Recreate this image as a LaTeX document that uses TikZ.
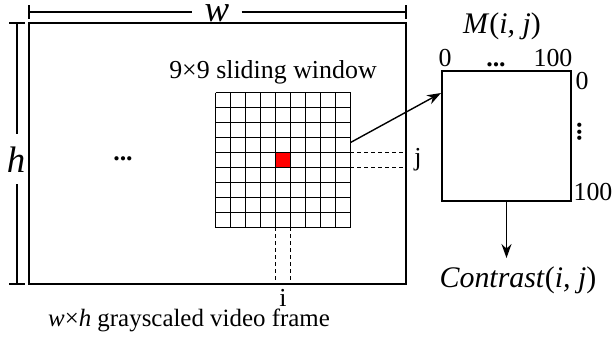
\documentclass[tikz,border=0pt]{standalone}
\usepackage{fontspec}
\setmainfont{Liberation Serif}
\usetikzlibrary{arrows.meta,positioning,calc}

\tikzset{
  lbl/.style={font=\fontsize{13}{15}\selectfont, inner sep=0pt, anchor=base},
  mlbl/.style={font=\fontsize{15}{17}\selectfont, inner sep=0pt, anchor=base},
  biglbl/.style={font=\fontsize{18.5}{21}\selectfont, inner xsep=6bp, inner ysep=0pt, anchor=base},
  dimline/.style={line width=0.7pt},
  framebox/.style={draw, line width=0.8pt},
  cell/.style={line width=0.55pt},
  guide/.style={dash pattern=on 2pt off 1.5pt, line width=0.6pt},
  conn/.style={line width=0.7pt, -{Stealth[length=7pt,width=5pt]}},
}

\begin{document}
\begin{tikzpicture}[x=0.5bp,y=-0.5bp]
  \useasboundingbox (0,0) rectangle (612,352);

  % video frame
  \draw[framebox] (29,23) rectangle (406,284);

  % width w
  \node[biglbl] (wlbl) at (217,21) {\textit{w}};
  \draw[dimline] (29,5) -- (29,19);
  \draw[dimline] (406,5) -- (406,19);
  \draw[dimline] (29,12) -- (wlbl.west |- 0,12);
  \draw[dimline] (wlbl.east |- 0,12) -- (406,12);

  % height h
  \node[biglbl, inner ysep=6bp] (hlbl) at (16,172) {\textit{h}};
  \draw[dimline] (9,23) -- (25,23);
  \draw[dimline] (9,284) -- (25,284);
  \draw[dimline] (17,23) -- (hlbl.north -| 17,0);
  \draw[dimline] (hlbl.south -| 17,0) -- (17,284);

  \node[lbl] (fdots) at (123,160) {\textbf{...}};

  % 9x9 sliding window
  \node[lbl] (wintitle) at (273,78) {9×9 sliding window};
  \fill[red] (275.5,152.5) rectangle ++(15,15);
  \foreach \k in {0,...,9} {
    \draw[cell] ({215.5+15*\k},92.5) -- ++(0,135);
    \draw[cell] (215.5,{92.5+15*\k}) -- ++(135,0);
  }
  \coordinate (wsrc) at (350.5,142.5);

  % i and j guides
  \node[lbl] (jlbl) at (418,165) {j};
  \node[lbl] (ilbl) at (283,306) {i};
  \draw[guide] (350.5,152.5) -- (406,152.5);
  \draw[guide] (350.5,167.5) -- (406,167.5);
  \draw[guide] (275.5,227.5) -- (275.5,284);
  \draw[guide] (290.5,227.5) -- (290.5,284);

  \node[lbl, font=\fontsize{12.5}{15}\selectfont] (caption) at (189,326) {\textit{w}×\textit{h} grayscaled video frame};

  % matrix M
  \node[framebox, minimum width=64.5bp, minimum height=65bp, inner sep=0pt, outer sep=0pt] (mbox) at (506.5,136) {};
  \node[mlbl] (mtitle) at (502,33) {\textit{M}(\textit{i, j})};
  \node[lbl] (mtop0) at (445,66) {0};
  \node[lbl] (mtopdots) at (496,66) {\textbf{...}};
  \node[lbl] (mtop100) at (553,66) {100};
  \node[lbl] (mright0) at (582,89) {0};
  \node[lbl, rotate=90, anchor=center] (mrightdots) at (580,132) {\textbf{...}};
  \node[lbl] (mright100) at (593,200) {100};
  \node[mlbl] (contrast) at (518,287) {\textit{Contrast}(\textit{i, j})};

  \draw[conn] (wsrc) -- ($(mbox.north west)+(-1,22)$);
  \draw[conn] (mbox.south) -- (mbox.south |- 0,258);
\end{tikzpicture}
\end{document}
